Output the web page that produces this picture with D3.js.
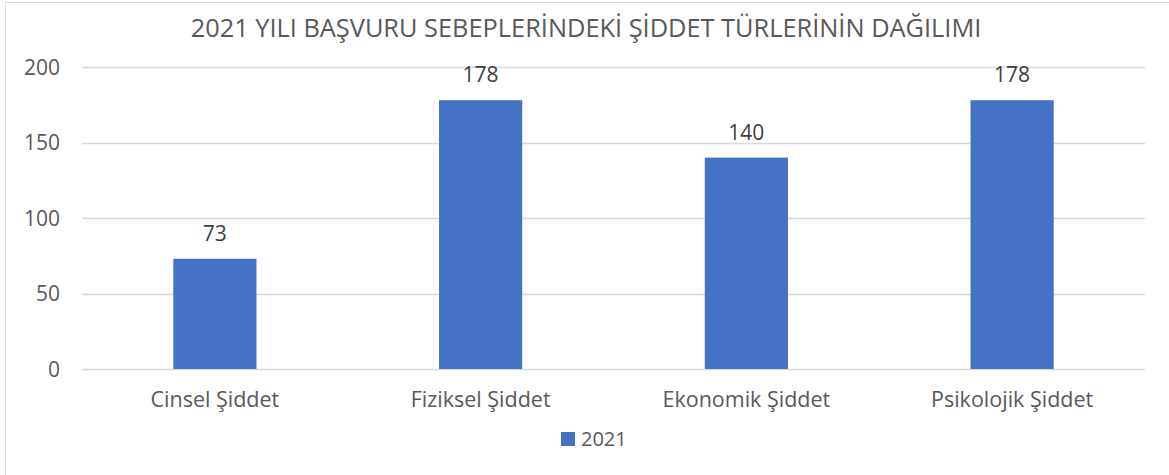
<!DOCTYPE html>
<html>
<head>
<meta charset="utf-8">
<script src="https://cdn.jsdelivr.net/npm/d3@7"></script>
<style>
  body { margin: 0; background: #fff; }
  svg text { font-family: "Segoe UI", "Open Sans", sans-serif; fill: #595959; }
</style>
</head>
<body>
<script>
    "use strict";

    var title = "2021 YILI BAŞVURU SEBEPLERİNDEKİ ŞİDDET TÜRLERİNİN DAĞILIMI";
    var categories = ["Cinsel Şiddet", "Fiziksel Şiddet", "Ekonomik Şiddet", "Psikolojik Şiddet"];
    var values2021 = [73, 178, 140, 178];
    var yTicks = [0, 50, 100, 150, 200];
    var seriesName = "2021";

    var width = 1169,
        height = 475,
        plotLeft = 82,
        plotRight = 1145,
        plotTop = 67,
        plotBottom = 369;

    var svg = d3.select("body").append("svg")
        .attr("width", width)
        .attr("height", height);

    // chart frame
    svg.append("rect")
        .attr("x", 5.5).attr("y", 2.5)
        .attr("width", 1170).attr("height", 490)
        .attr("fill", "none")
        .attr("stroke", "#d9d9d9");

    var yScale = d3.scaleLinear()
                   .domain([0, 200])
                   .range([plotBottom, plotTop]);

    var xScale = d3.scaleBand()
                   .domain(categories)
                   .range([plotLeft, plotRight])
                   .paddingInner(0.687)
                   .paddingOuter(0.3435);

    // gridlines
    svg.append("g")
        .selectAll("line")
        .data(yTicks)
        .enter().append("line")
            .attr("x1", plotLeft)
            .attr("x2", plotRight)
            .attr("y1", function(d) { return Math.round(yScale(d)) + 0.5; })
            .attr("y2", function(d) { return Math.round(yScale(d)) + 0.5; })
            .attr("stroke", "#d9d9d9")
            .attr("stroke-width", 1.3);

    // y tick labels
    svg.append("g")
        .selectAll("text")
        .data(yTicks)
        .enter().append("text")
            .attr("x", 60)
            .attr("y", function(d) { return yScale(d) + 7.5; })
            .attr("text-anchor", "end")
            .style("font-size", "21px")
            .text(function(d) { return d; });

    // bars
    svg.append("g")
        .selectAll("rect")
        .data(values2021)
        .enter().append("rect")
            .attr("x", function(d, i) { return xScale(categories[i]); })
            .attr("width", xScale.bandwidth())
            .attr("y", function(d) { return yScale(d); })
            .attr("height", function(d) { return plotBottom - yScale(d); })
            .attr("fill", "#4472c4");

    // value labels
    svg.append("g")
        .selectAll("text")
        .data(values2021)
        .enter().append("text")
            .attr("x", function(d, i) { return xScale(categories[i]) + xScale.bandwidth() / 2; })
            .attr("y", function(d) { return yScale(d) - 18; })
            .attr("text-anchor", "middle")
            .style("font-size", "21px")
            .style("fill", "#404040")
            .text(function(d) { return d; });

    // category labels
    svg.append("g")
        .selectAll("text")
        .data(categories)
        .enter().append("text")
            .attr("x", function(d) { return xScale(d) + xScale.bandwidth() / 2; })
            .attr("y", 407)
            .attr("text-anchor", "middle")
            .style("font-size", "21.5px")
            .text(function(d) { return d; });

    // title, fitted to the reference width
    var t = svg.append("text")
        .attr("x", 586)
        .attr("y", 37)
        .attr("text-anchor", "middle")
        .style("font-size", "26px")
        .text(title);
    var tw = t.node().getComputedTextLength();
    t.style("font-size", (26 * 791 / tw) + "px");

    // legend
    svg.append("rect")
        .attr("x", 561).attr("y", 432)
        .attr("width", 14).attr("height", 14)
        .attr("fill", "#4472c4");
    svg.append("text")
        .attr("x", 581)
        .attr("y", 446)
        .style("font-size", "20px")
        .text(seriesName);
</script>
</body>
</html>
